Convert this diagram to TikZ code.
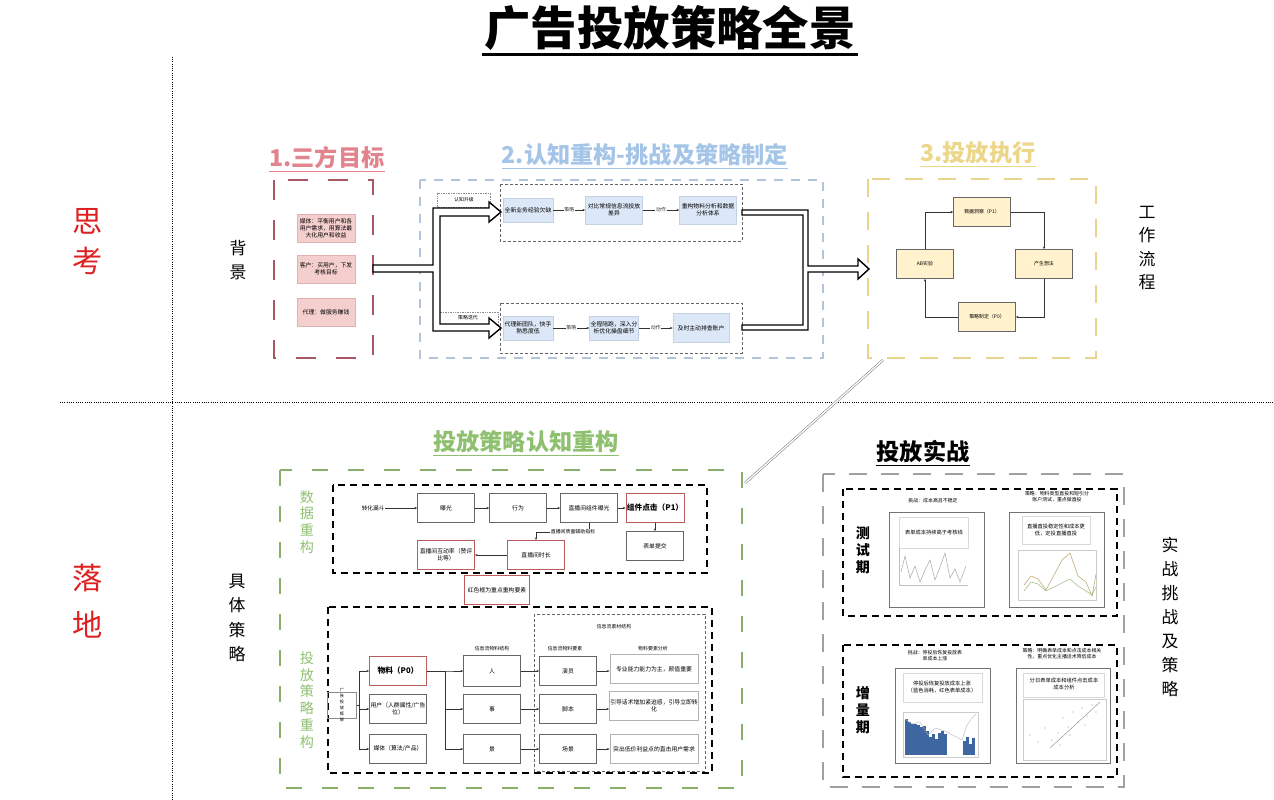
\documentclass[tikz,border=0pt]{standalone}
\usepackage{fontspec}
\setmainfont{Noto Sans CJK SC}
\usetikzlibrary{arrows.meta,positioning}

\definecolor{sanred}{RGB}{168,88,98}
\definecolor{sanhead}{RGB}{226,132,142}
\definecolor{sanfill}{RGB}{245,206,206}
\definecolor{sanedge}{RGB}{226,178,178}
\definecolor{renline}{RGB}{178,196,220}
\definecolor{renhead}{RGB}{164,196,232}
\definecolor{renfill}{RGB}{220,231,247}
\definecolor{renedge}{RGB}{196,208,228}
\definecolor{zhiline}{RGB}{232,212,140}
\definecolor{zhihead}{RGB}{236,214,138}
\definecolor{zhifill}{RGB}{255,242,204}
\definecolor{celue}{RGB}{138,174,108}
\definecolor{celuehead}{RGB}{142,192,112}
\definecolor{keyred}{RGB}{184,92,92}
\definecolor{shizhan}{RGB}{160,160,160}
\definecolor{bigred}{RGB}{222,32,32}
\definecolor{barblue}{RGB}{62,102,160}

\tikzset{
  heading/.style={font=\fontsize{33}{35}\selectfont\bfseries, inner sep=0pt},
  side/.style={align=center, inner sep=0pt},
  cell/.style={draw=black!60, line width=0.6pt, minimum width=2.85cm, minimum height=1.45cm,
    align=center, font=\fontsize{8.3}{10}\selectfont, inner sep=1pt},
  sancell/.style={cell, draw=sanedge, fill=sanfill, minimum width=2.9cm, minimum height=1.4cm},
  rencell/.style={cell, draw=renedge, fill=renfill, minimum width=#1, minimum height=1.3cm},
  zhicell/.style={cell, fill=zhifill, font=\fontsize{7}{8.5}\selectfont},
  keycell/.style={cell, draw=keyred, line width=0.9pt},
  flow/.style={-{Stealth[length=4pt,width=3pt]}, line width=0.6pt, black!80},
  bigdash/.style={line width=4pt, dash pattern=on 1cm off 1cm},
  middash/.style={line width=1.6pt, dash pattern=on 0.35cm off 0.25cm},
  tinydash/.style={line width=0.7pt, dash pattern=on 0.15cm off 0.1cm},
  fatarrow/.style={draw=black, fill=white, line width=2pt, line join=miter},
  tag/.style={font=\fontsize{7}{8.5}\selectfont, inner sep=1pt, align=center},
  chart/.style={draw=black!55, line width=0.8pt},
}

\begin{document}
\begin{tikzpicture}[x=0.05cm, y=-0.05cm]
\useasboundingbox (0,0) rectangle (1274,800);

% title and split lines
\node[font=\fontsize{66}{68}\selectfont\bfseries] (title) at (670,28) {广告投放策略全景};
\draw[line width=3.5pt] ([yshift=-2pt]title.south west) -- ([yshift=-2pt]title.south east);
\draw[dotted, line width=1.2pt] (172,57) -- (172,800);
\draw[dotted, line width=1.2pt] (60,402) -- (1274,402);

\node[side, text=bigred, font=\fontsize{43}{57}\selectfont] (sikao) at (88,242) {思\\考};
\node[side, text=bigred, font=\fontsize{43}{66}\selectfont] (luodi) at (88,601) {落\\地};
\node[side, font=\fontsize{24}{34}\selectfont] (beijing) at (238,260) {背\\景};
\node[side, font=\fontsize{24}{33}\selectfont] (liucheng) at (1147,248) {工\\作\\流\\程};
\node[side, font=\fontsize{24}{35}\selectfont] (juti) at (237,618) {具\\体\\策\\略};
\node[side, font=\fontsize{24}{34}\selectfont] (shizhan) at (1170,617) {实\\战\\挑\\战\\及\\策\\略};

% 1. three parties
\node[heading, text=sanhead] (h1) at (327,158) {1.三方目标};
\draw[sanhead, line width=2.5pt] ([yshift=-3pt]h1.south west) -- ([yshift=-3pt]h1.south east);
\draw[bigdash, sanred] (274,180) rectangle (373,358);
\node[sancell] (meiti1) at (326,228) {媒体：平衡用户和各\\用户需求，用算法最\\大化用户和收益};
\node[sancell] (kehu) at (326,269) {客户：买用户，下发\\考核目标};
\node[sancell] (daili) at (326,312) {代理：做服务赚钱};

% 2. rethink
\node[heading, text=renhead] (h2) at (645,155) {2.认知重构-挑战及策略制定};
\draw[renhead, line width=2.5pt] ([yshift=-3pt]h2.south west) -- ([yshift=-3pt]h2.south east);
\draw[renline, line width=2.5pt, dash pattern=on 0.45cm off 0.4cm] (420,180) rectangle (823,358);
\draw[tinydash, black!60] (500,184) rectangle (742,241);
\draw[tinydash, black!60] (500,303) rectangle (742,353);
\node[draw=black!45, dotted, minimum width=2.65cm, minimum height=0.7cm, tag] (shengji) at (464,200) {认知升级};
\node[draw=black!45, dotted, minimum width=3.05cm, minimum height=0.6cm, tag] (diedai) at (468,318) {策略迭代};
\node[rencell=2.5cm, minimum height=1.2cm] (quanxin) at (528,210) {全新业务经验欠缺};
\node[rencell=2.85cm, minimum height=1.4cm] (duibi) at (614,210) {对比常规信息流投放\\差异};
\node[rencell=2.85cm, minimum height=1.4cm] (chonggou) at (708,210) {重构物料分析和数据\\分析体系};
\node[rencell=2.5cm, minimum height=1.2cm] (xintuan) at (528,328) {代理新团队，快手\\熟悉度低};
\node[rencell=2.45cm, minimum height=1.2cm] (peipao) at (614,328) {全程陪跑，深入分\\析优化操盘细节};
\node[rencell=2.8cm, minimum height=1.45cm] (paicha) at (701,328) {及时主动排查账户};
\draw[flow] (quanxin) -- node[tag, fill=white] {策略} (duibi);
\draw[flow] (duibi) -- node[tag, fill=white] {动作} (chonggou);
\draw[flow] (xintuan) -- node[tag, fill=white] {策略} (peipao);
\draw[flow] (peipao) -- node[tag, fill=white] {动作} (paicha);

% fat arrows
\draw[fatarrow] (373,265) -- (433,265) -- (433,208) -- (489,208) -- (489,202) -- (501,212) -- (489,222)
  -- (489,216) -- (440,216) -- (440,324) -- (489,324) -- (489,318) -- (501,328) -- (489,338) -- (489,331)
  -- (433,331) -- (433,272) -- (373,272) -- cycle;
\draw[fatarrow] (742,210) -- (808,210) -- (808,266) -- (858,266) -- (858,259) -- (869,269) -- (858,279)
  -- (858,272) -- (808,272) -- (808,330) -- (742,330) -- (742,325) -- (803,325) -- (803,215) -- (742,215) -- cycle;

% 3. execution
\node[heading, text=zhihead] (h3) at (978,153) {3.投放执行};
\draw[zhihead, line width=2.5pt] ([yshift=-3pt]h3.south west) -- ([yshift=-3pt]h3.south east);
\draw[bigdash, zhiline, dash pattern=on 0.9cm off 0.75cm] (868,179) rectangle (1096,358);
\node[zhicell] (dongcha) at (982,212) {数据洞察（P1）};
\node[zhicell] (xiangfa) at (1044,264) {产生想法};
\node[zhicell] (zhiding) at (987,317) {策略制定（P0）};
\node[zhicell] (abtest) at (925,264) {AB实验};
\draw[flow] (dongcha.east) -| (xiangfa.north);
\draw[flow] (xiangfa.south) |- (zhiding.east);
\draw[flow] (zhiding.west) -| (abtest.south);
\draw[flow] (abtest.north) |- (dongcha.west);

\coordinate (zhi-bl) at (883,360);
\coordinate (zhi-b) at (982,360);
\coordinate (lv-tr) at (745,483);
\coordinate (hui-t) at (982,482);
\draw[double=white, double distance=2pt, line width=0.7pt, black!55] (zhi-bl) -- (lv-tr);
\draw[double=white, double distance=2pt, line width=0.7pt, black!55] (zhi-b) -- (hui-t);

% strategy rebuild
\node[heading, text=celuehead] (h4) at (526,442) {投放策略认知重构};
\draw[celuehead, line width=2.5pt] ([yshift=-3pt]h4.south west) -- ([yshift=-3pt]h4.south east);
\draw[bigdash, celue, dash pattern=on 0.8cm off 1cm] (280,470) rectangle (742,788);
\node[side, text=celuehead, font=\fontsize{20}{24}\selectfont] (shuju) at (307,522) {数\\据\\重\\构};
\node[side, text=celuehead, font=\fontsize{20}{24}\selectfont] (toufang) at (307,700) {投\\放\\策\\略\\重\\构};

\draw[middash] (333,485) rectangle (707,573);
\node[tag, font=\fontsize{8}{9.5}\selectfont] (loudou) at (373,508) {转化漏斗};
\node[cell] (baoguang) at (446,508) {曝光};
\node[cell] (xingwei) at (518,508) {行为};
\node[cell] (zjbg) at (589,508) {直播间组件曝光};
\node[keycell, font=\fontsize{11}{13}\selectfont\bfseries] (zjdj) at (655,508) {组件点击（P1）};
\node[cell] (biaodan) at (655,546) {表单提交};
\node[keycell] (shichang) at (536,555) {直播间时长};
\node[keycell] (hudong) at (446,555) {直播间互动率（赞评\\比等）};
\node[keycell, minimum width=3.25cm] (tuli) at (497,590) {红色框为重点重构要素};
\draw[flow] (loudou) -- (baoguang);
\draw[flow] (baoguang) -- (xingwei);
\draw[flow] (xingwei) -- (zjbg);
\draw[flow] (zjbg) -- (zjdj);
\draw[flow] (zjdj) -- (biaodan);
\coordinate (zhiliang) at (589,532);
\draw[flow] (zjbg.south) -- (zhiliang) -| (shichang.north);
\node[tag, fill=white] (fuzhu) at (573,532) {直播间质量辅助指标};
\draw[flow] (shichang) -- (hudong);

\draw[middash] (328,607) rectangle (712,773);
\draw[tinydash, black!60] (534,614) rectangle (705,771);
\node[draw=black!45, line width=0.5pt, minimum width=1.45cm, minimum height=1.3cm] (kuangjia) at (342,705) {};
\node[side, font=\fontsize{6}{8.5}\selectfont] (kuangjiatxt) at (342,705) {广\\告\\投\\放\\框\\架};
\node[keycell, font=\fontsize{11}{13}\selectfont\bfseries] (wuliao) at (398,671) {物料（P0）};
\node[cell] (yonghu) at (398,709) {用户（人群属性/广告\\位）};
\node[cell] (meiti) at (398,749) {媒体（算法/产品）};
\foreach \t in {wuliao,yonghu,meiti}
  \draw[flow] (kuangjia.east) -- ++(3,0) |- (\t.west);
\node[tag] (wljg) at (492,649) {信息流物料结构};
\node[cell, minimum height=1.55cm] (ren) at (492,671) {人};
\node[cell] (shi) at (492,709) {事};
\node[cell] (jing) at (492,749) {景};
\foreach \t in {ren,shi,jing}
  \draw[flow] (wuliao.east) -- ++(18,0) |- (\t.west);
\node[tag] (sucai) at (614,627) {信息流素材结构};
\node[tag] (yaosu) at (565,649) {信息流物料要素};
\node[tag] (fenxi) at (653,649) {物料要素分析};
\node[cell] (yanyuan) at (568,671) {演员};
\node[cell] (jiaoben) at (568,709) {脚本};
\node[cell] (changjing) at (568,749) {场景};
\node[cell, draw=black!30, line width=1pt, minimum width=4.4cm, minimum height=1.45cm] (nengli) at (654,669) {专业能力能力为主，颜值重要};
\node[cell, draw=black!30, line width=1pt, minimum width=4.4cm, minimum height=1.45cm] (huashu) at (654,706) {引导话术增加紧迫感，引导立即转\\化};
\node[cell, draw=black!30, line width=1pt, minimum width=4.4cm, minimum height=1.45cm] (didjia) at (654,749) {突出低价利益点的直击用户需求};
\draw[flow] (ren.east) -- (yanyuan.west);
\draw[flow] (shi) -- (jiaoben);
\draw[flow] (jing) -- (changjing);
\draw[flow] (yanyuan.east) -- (nengli.west |- yanyuan.east);
\draw[flow] (jiaoben.east) -- (huashu.west |- jiaoben.east);
\draw[flow] (changjing.east) -- (didjia.west |- changjing.east);

% battle
\node[heading, text=black] (h5) at (923,452) {投放实战};
\draw[line width=2.5pt] ([yshift=-3pt]h5.south west) -- ([yshift=-3pt]h5.south east);
\draw[bigdash, shizhan, line width=3pt, dash pattern=on 0.9cm off 0.7cm] (823,474) rectangle (1124,787);
\draw[middash] (843,489) rectangle (1117,616);
\draw[middash] (843,645) rectangle (1117,777);
\node[side, font=\fontsize{20}{24}\selectfont\bfseries] (ceshi) at (863,550) {测\\试\\期};
\node[side, font=\fontsize{20}{24}\selectfont\bfseries] (zengliang) at (863,710) {增\\量\\期};
\node[tag] (tz1) at (933,501) {挑战：成本高且不稳定};
\node[tag] (cl1) at (1057,497) {策略：物料类型直投和短引分\\账户测试，重点做直投};
\node[tag] (tz2) at (935,656) {挑战：停投后恢复投放表\\单成本上涨};
\node[tag] (cl2) at (1062,654) {策略：明确表单成本和点击成本相关\\性，重点优化主播话术降低成本};

% chart 1
\draw[chart] (889,512) rectangle (984,607);
\draw[black!15, line width=0.5pt] (899,517) rectangle (968,548);
\node[tag, font=\fontsize{7.5}{9}\selectfont] (c1) at (934,532) {表单成本持续高于考核线};
\draw[black!25, line width=0.6pt] (899,548) -- (899,585) -- (968,585);
\draw[black!35, line width=0.7pt] (901,572) -- (905,556) -- (910,578) -- (915,566) -- (920,582) -- (925,570)
  -- (930,560) -- (935,580) -- (940,567) -- (945,553) -- (950,578) -- (955,569) -- (960,582) -- (966,566);
% chart 2
\draw[chart] (1009,512) rectangle (1104,607);
\draw[black!15, line width=0.5pt] (1022,516) rectangle (1090,544);
\node[tag, font=\fontsize{7.5}{9}\selectfont] (c2) at (1056,530) {直播直投稳定性和成本更\\低，定投直播直投};
\draw[black!20, line width=0.5pt] (1018,550) rectangle (1096,600);
\draw[zhiline!80!black, line width=0.8pt] (1024,585) -- (1031,576) -- (1038,579) -- (1046,590) -- (1054,575)
  -- (1062,560) -- (1070,553) -- (1078,576) -- (1086,582) -- (1092,596) -- (1096,574);
\draw[celue!80, line width=0.8pt] (1024,591) -- (1031,582) -- (1038,584) -- (1046,591) -- (1054,587)
  -- (1062,583) -- (1070,579) -- (1078,586) -- (1086,591) -- (1092,595) -- (1096,587);
% chart 3
\draw[chart] (895,668) rectangle (990,763);
\draw[black!15, line width=0.5pt] (903,673) rectangle (982,702);
\node[tag, font=\fontsize{7.5}{9}\selectfont] (c3) at (942,687) {停投后恢复投放成本上涨\\（蓝色消耗，红色表单成本）};
\draw[black!20, line width=0.5pt] (903,712) rectangle (978,757);
\foreach \i/\h in {905/36,908/33,911/31,914/31,917/30,920/28,923/29,926/24,929/18,932/21,935/16,938/22,941/24,944/21,
  963/14,966/18,969/11,972/17}
  \fill[barblue] (\i,755) rectangle ++(2.6,-\h);
\draw[black!30, line width=0.5pt] (905,719) -- (912,724) -- (920,722) -- (928,735) -- (935,728) -- (945,731)
  -- (962,740) -- (967,725) -- (972,718) -- (976,714);
% chart 4
\draw[chart] (1016,668) rectangle (1110,763);
\draw[black!15, line width=0.5pt] (1023,673) rectangle (1104,697);
\node[tag, font=\fontsize{7.5}{9}\selectfont] (c4) at (1064,684) {分日表单成本和组件点击成本\\成本分析};
\draw[black!20, line width=0.5pt] (1023,699) rectangle (1106,760);
\draw[black!45, line width=0.6pt] (1050,748) -- (1100,702);
\foreach \p in {(1030,735),(1038,742),(1045,728),(1052,740),(1058,733),(1063,718),(1068,727),(1073,712),
  (1078,722),(1082,708),(1087,716),(1092,705),(1096,712),(1060,745),(1070,735),(1085,725)}
  \fill[black!40] \p circle (0.9pt);

\end{tikzpicture}
\end{document}
